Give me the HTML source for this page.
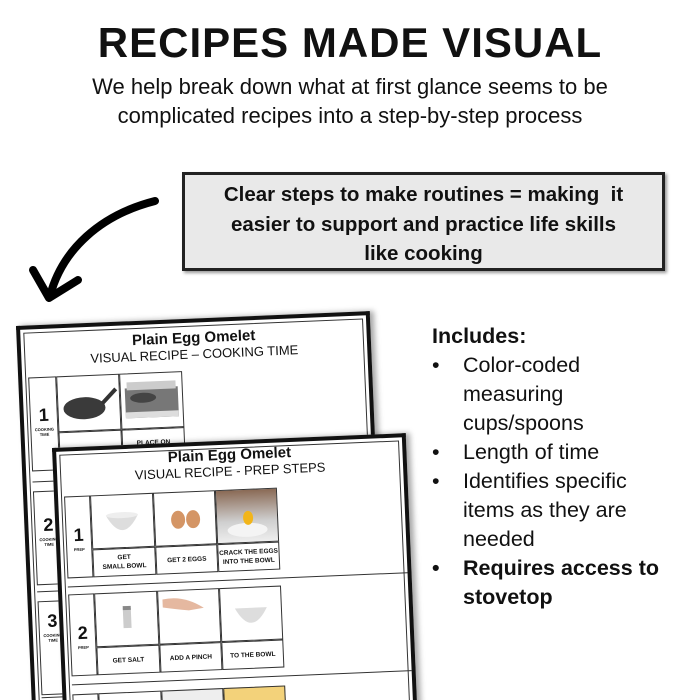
<!DOCTYPE html>
<html style="width:700px;height:700px;overflow:hidden"><head><meta charset="utf-8"><style>
*{margin:0;padding:0;box-sizing:border-box}
body{width:700px;height:700px;background:#fff;position:relative;overflow:hidden;font-family:"Liberation Sans",sans-serif;color:#111}
.clip{position:absolute;left:0;top:0;width:700px;height:700px;overflow:hidden}
.abs{position:absolute}
h1{position:absolute;left:0;width:700px;top:17px;text-align:center;font-size:42px;font-weight:bold;letter-spacing:1px;line-height:52px}
.sub{position:absolute;left:0;width:700px;top:72px;text-align:center;font-size:22px;line-height:29px}
.box{position:absolute;left:182px;top:172px;width:483px;height:99px;background:#e9e9e9;border:3px solid #222;text-align:center;font-weight:bold;font-size:20.5px;line-height:29.5px;padding-top:5px;box-shadow:2px 2px 3px #999}
.inc{position:absolute;left:432px;top:322px;font-size:21.5px;line-height:29px}
.inc div{position:relative;padding-left:31px}
.inc .b{position:absolute;left:0;top:0}
.page{position:absolute;background:#fff;border:4px solid #111;border-bottom:none;transform:rotate(-2.4deg);transform-origin:0 0;box-shadow:4px 0 6px rgba(0,0,0,.35);overflow:hidden}
.page .inner{position:absolute;left:3px;top:3px;right:3px;bottom:-5px;border:1px solid #333}
.pt{position:absolute;left:0;width:100%;text-align:center;font-weight:bold;font-size:15px}
.ps{position:absolute;left:0;width:100%;text-align:center;font-size:13px}
.cell{position:absolute;border:1px solid #333;background:#fff}
.lab{position:absolute;font-size:6.5px;font-weight:bold;text-align:center;display:flex;align-items:center;justify-content:center;line-height:9px}
.num{position:absolute;font-weight:bold;font-size:18px;text-align:center;width:26px}
.nl{position:absolute;font-size:4px;font-weight:bold;text-align:center;width:26px}
</style></head><body><div class="clip">
<h1>RECIPES MADE VISUAL</h1>
<div class="sub">We help break down what at first glance seems to be<br>complicated recipes into a step-by-step process</div>
<div class="box">Clear steps to make routines = making&nbsp; it<br>easier to support and practice life skills<br>like cooking</div>
<svg class="abs" style="left:0;top:0" width="700" height="700">
<path d="M155 201 C100 215 62 250 50 296" fill="none" stroke="#000" stroke-width="8" stroke-linecap="round"/>
<path d="M33 270 L49 298 L78 280" fill="none" stroke="#000" stroke-width="8" stroke-linecap="round" stroke-linejoin="round"/>
</svg>

<div class="page" style="left:16px;top:326px;width:354px;height:400px">
<div class="inner"></div>
<div class="pt" style="top:7px">Plain Egg Omelet</div>
<div class="ps" style="top:24px">VISUAL RECIPE – COOKING TIME</div>
<div class="cell" style="left:6px;top:48px;width:28px;height:94px"></div>
<div class="num" style="left:7px;top:76px">1</div><div class="nl" style="left:7px;top:98px">COOKING<br>TIME</div>
<div class="cell" style="left:34px;top:48px;width:63px;height:56px"><svg width="61" height="54"><ellipse cx="26" cy="32" rx="21" ry="11" fill="#3a3a3a"/><path d="M44 28 L58 14" stroke="#333" stroke-width="4"/></svg></div>
<div class="cell" style="left:97px;top:48px;width:63px;height:56px"><svg width="61" height="54"><rect x="4" y="14" width="53" height="30" fill="#777"/><rect x="6" y="8" width="49" height="8" fill="#ccc"/><ellipse cx="22" cy="24" rx="13" ry="5" fill="#444"/><rect x="4" y="38" width="53" height="6" fill="#ddd"/></svg></div>
<div class="cell lab" style="left:34px;top:104px;width:63px;height:38px">GET SKILLET</div>
<div class="cell lab" style="left:97px;top:104px;width:63px;height:38px">PLACE ON<br>STOVETOP</div>
<div class="abs" style="left:6px;top:152px;width:340px;border-top:1px solid #333"></div>
<div class="cell" style="left:6px;top:162px;width:28px;height:94px"></div>
<div class="num" style="left:7px;top:186px">2</div><div class="nl" style="left:7px;top:208px">COOKING<br>TIME</div>
<div class="abs" style="left:6px;top:262px;width:340px;border-top:1px solid #333"></div>
<div class="cell" style="left:6px;top:272px;width:28px;height:94px"></div>
<div class="num" style="left:7px;top:282px">3</div><div class="nl" style="left:7px;top:304px">COOKING<br>TIME</div>
<div class="abs" style="left:6px;top:368px;width:340px;border-top:1px solid #333"></div>
<div class="num" style="left:7px;top:370px">4</div>
</div>

<div class="page" style="left:52px;top:448px;width:354px;height:280px">
<div class="inner"></div>
<div class="pt" style="top:2px">Plain Egg Omelet</div>
<div class="ps" style="top:19px">VISUAL RECIPE - PREP STEPS</div>
<div class="cell" style="left:6px;top:45px;width:26px;height:82px"></div>
<div class="num" style="left:6px;top:74px">1</div><div class="nl" style="left:6px;top:96px">PREP</div>
<div class="cell" style="left:32px;top:45px;width:63px;height:54px"><svg width="61" height="52"><path d="M14 20 Q30 50 46 20 Z" fill="#ddd"/><ellipse cx="30" cy="20" rx="16" ry="3" fill="#eee"/></svg></div>
<div class="cell" style="left:95px;top:45px;width:62px;height:54px"><svg width="60" height="52"><ellipse cx="23" cy="27" rx="7" ry="9" fill="#d49565"/><ellipse cx="38" cy="27" rx="7" ry="9" fill="#d49565"/></svg></div>
<div class="cell" style="left:157px;top:45px;width:62px;height:54px;background:linear-gradient(#8a6a55,#cfcfcf 60%,#eee)"><svg width="60" height="52"><ellipse cx="30" cy="40" rx="20" ry="7" fill="#f4f4f4"/><ellipse cx="31" cy="28" rx="5" ry="7" fill="#f2b51a"/></svg></div>
<div class="cell lab" style="left:32px;top:99px;width:63px;height:28px">GET<br>SMALL BOWL</div>
<div class="cell lab" style="left:95px;top:99px;width:62px;height:28px">GET 2 EGGS</div>
<div class="cell lab" style="left:157px;top:99px;width:62px;height:28px">CRACK THE EGGS<br>INTO THE BOWL</div>
<div class="abs" style="left:6px;top:135px;width:340px;border-top:1px solid #333"></div>
<div class="cell" style="left:6px;top:143px;width:26px;height:82px"></div>
<div class="num" style="left:6px;top:172px">2</div><div class="nl" style="left:6px;top:194px">PREP</div>
<div class="cell" style="left:32px;top:143px;width:63px;height:54px"><svg width="61" height="52"><rect x="27" y="15" width="8" height="20" fill="#ccc"/><rect x="27" y="13" width="8" height="4" fill="#888"/></svg></div>
<div class="cell" style="left:95px;top:143px;width:62px;height:54px"><svg width="60" height="52"><path d="M4 8 Q25 4 45 18 L30 20 Q15 18 4 16Z" fill="#e5b8a0"/></svg></div>
<div class="cell" style="left:157px;top:143px;width:62px;height:54px"><svg width="60" height="52"><path d="M14 20 Q30 50 46 20 Z" fill="#ddd"/></svg></div>
<div class="cell lab" style="left:32px;top:197px;width:63px;height:28px">GET SALT</div>
<div class="cell lab" style="left:95px;top:197px;width:62px;height:28px">ADD A PINCH</div>
<div class="cell lab" style="left:157px;top:197px;width:62px;height:28px">TO THE BOWL</div>
<div class="abs" style="left:6px;top:233px;width:340px;border-top:1px solid #333"></div>
<div class="cell" style="left:6px;top:243px;width:26px;height:54px"></div>
<div class="num" style="left:6px;top:250px">3</div>
<div class="cell" style="left:32px;top:243px;width:63px;height:54px"></div>
<div class="cell" style="left:95px;top:243px;width:62px;height:54px;background:#eee"></div>
<div class="cell" style="left:157px;top:243px;width:62px;height:54px;background:#f3d27a"></div>
</div>

<div class="inc">
<div style="padding-left:0;font-weight:bold">Includes:</div>
<div><span class="b">•</span>Color-coded<br>measuring<br>cups/spoons</div>
<div><span class="b">•</span>Length of time</div>
<div><span class="b">•</span>Identifies specific<br>items as they are<br>needed</div>
<div style="font-weight:bold"><span class="b">•</span>Requires access to<br>stovetop</div>
</div>
</div></body></html>
